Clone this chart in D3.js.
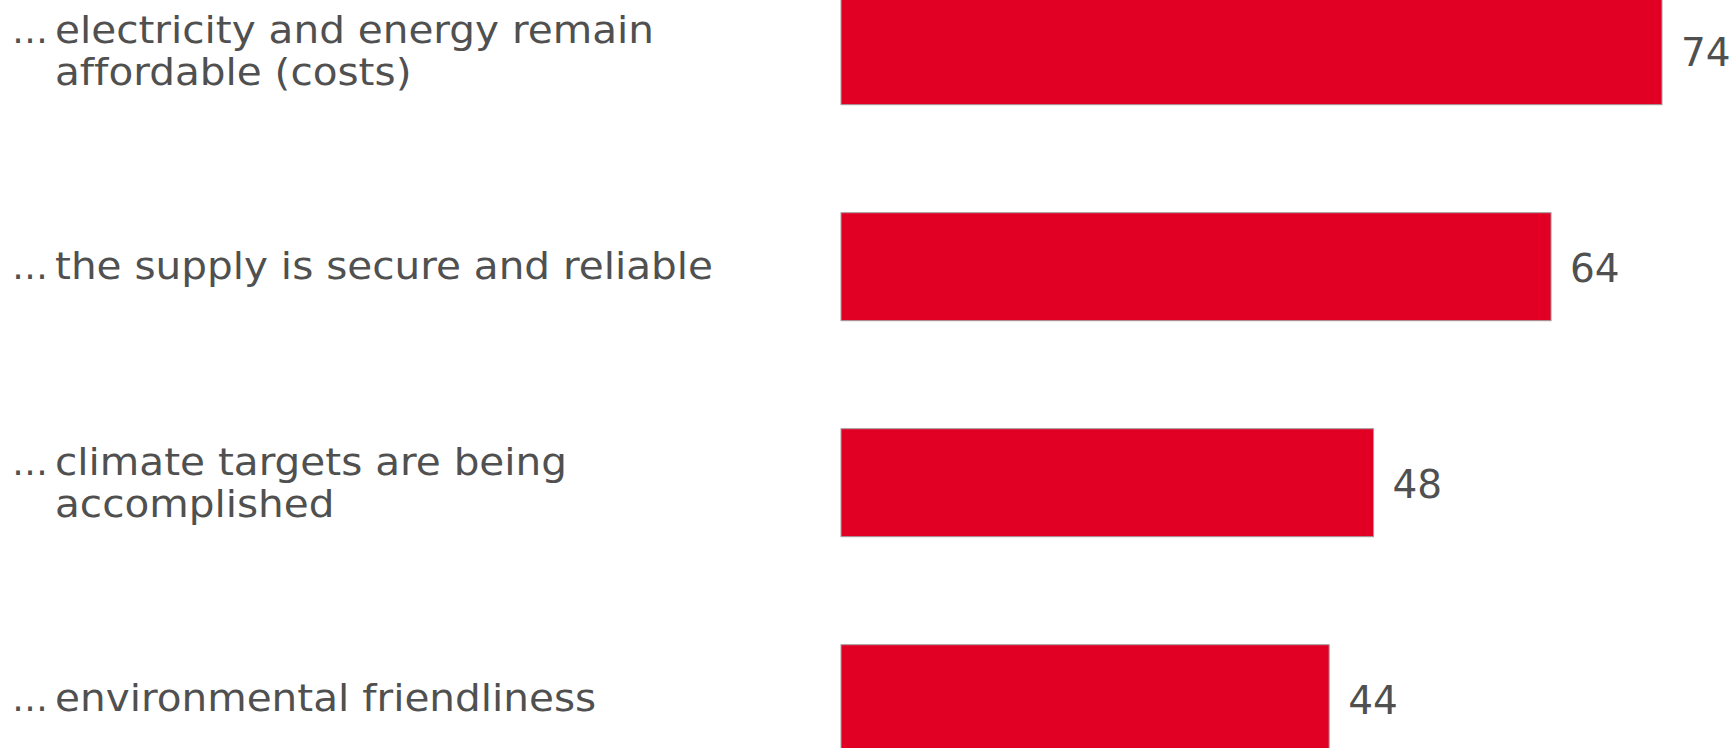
<!DOCTYPE html>
<html>
<head>
<meta charset="utf-8">
<script src="https://cdn.jsdelivr.net/npm/d3@7"></script>
<style>
  html, body { margin: 0; padding: 0; background: #fff; }
  svg { display: block; }
  text { font-variant-ligatures: none; font-feature-settings: "liga" 0; }
</style>
</head>
<body>
<svg id="chart" width="1734" height="748"></svg>
<script>
const categories = [
  ["electricity and energy remain", "affordable (costs)"],
  ["the supply is secure and reliable"],
  ["climate targets are being", "accomplished"],
  ["environmental friendliness"]
];
const keys = ["affordable", "supply", "climate", "environment"];
const values = [74, 64, 48, 44];

const svg = d3.select("#chart");
const x0 = 841;
const x = d3.scaleLinear().domain([0, 74]).range([x0, 1662]);
const y = d3.scaleBand().domain(keys).range([-57.3, 806.7]).paddingInner(0.5).paddingOuter(0.25);

const textColor = "#505050";
const font = "'DejaVu Sans', Verdana, sans-serif";

const g = svg.append("g");
keys.forEach((k, i) => {
  const yTop = y(k), bh = y.bandwidth(), cy = yTop + bh / 2;
  g.append("rect")
    .attr("x", x(0)).attr("y", yTop)
    .attr("width", x(values[i]) - x(0)).attr("height", bh)
    .attr("fill", "#E10024")
    .attr("stroke", "#a0a0a0").attr("stroke-width", 1);
  g.append("text")
    .attr("x", x(values[i]) + 19).attr("y", cy + 15)
    .attr("font-family", font).attr("font-size", 39)
    .attr("fill", textColor)
    .text(values[i]);
  const lines = categories[i];
  const base = lines.length === 1 ? cy + 12 : cy - 8;
  g.append("text")
    .attr("x", 12).attr("y", base)
    .attr("font-family", font).attr("font-size", 36)
    .attr("fill", textColor)
    .text("…");
  lines.forEach((ln, j) => {
    g.append("text")
      .attr("transform", `translate(55,${base + j * 42}) scale(1.09,1)`)
      .attr("font-family", font).attr("font-size", 37.2)
      .attr("fill", textColor)
      .text(ln);
  });
});
</script>
</body>
</html>
